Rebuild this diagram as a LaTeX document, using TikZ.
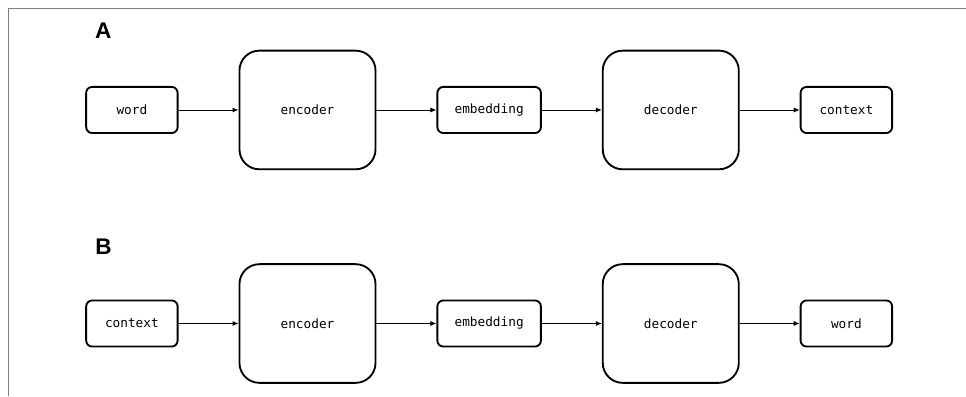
\documentclass[tikz,border=0pt]{standalone}
\usepackage{fontspec}
\setmonofont{DejaVu Sans Mono}
\setsansfont{Liberation Sans}
\usetikzlibrary{positioning,arrows.meta}

\begin{document}
\begin{tikzpicture}[>={Latex[length=4.5pt,width=3.8pt]}, node distance=1.587cm,
    every node/.style={font=\ttfamily\fontsize{9.6}{11}\selectfont},
    iobox/.style={draw, line width=1.4pt, rounded corners=4.5pt, minimum width=2.42cm, minimum height=1.22cm},
    embbox/.style={iobox, minimum width=2.74cm},
    netbox/.style={draw, line width=1.4pt, rounded corners=15pt, minimum width=3.6cm, minimum height=3.14cm},
    panel/.style={font=\sffamily\bfseries\fontsize{17}{20}\selectfont},
    flow/.style={->, line width=0.7pt}]
  \useasboundingbox (0,0) rectangle (25.56,-10.48);
  \draw[gray, line width=0.6pt] (25.56,-0.21) -- (0.21,-0.21) -- (0.21,-10.48);

  % A: word -> context
  \node[panel] (labA) at (2.73,-0.82) {A};
  \node[iobox] (wordA) at (3.49,-2.91) {word};
  \node[netbox, right=of wordA] (encA) {encoder};
  \node[embbox, right=of encA] (embA) {embedding};
  \node[netbox, right=of embA] (decA) {decoder};
  \node[iobox, right=of decA] (ctxA) {context};

  \draw[flow] (wordA) -- (encA);
  \draw[flow] (encA) -- (embA);
  \draw[flow] (embA) -- (decA);
  \draw[flow] (decA) -- (ctxA);

  % B: context -> word
  \node[panel] (labB) at (2.74,-6.52) {B};
  \node[iobox] (ctxB) at (3.49,-8.56) {context};
  \node[netbox, right=of ctxB] (encB) {encoder};
  \node[embbox, right=of encB] (embB) {embedding};
  \node[netbox, right=of embB] (decB) {decoder};
  \node[iobox, right=of decB] (wordB) {word};

  \draw[flow] (ctxB) -- (encB);
  \draw[flow] (encB) -- (embB);
  \draw[flow] (embB) -- (decB);
  \draw[flow] (decB) -- (wordB);
\end{tikzpicture}
\end{document}
